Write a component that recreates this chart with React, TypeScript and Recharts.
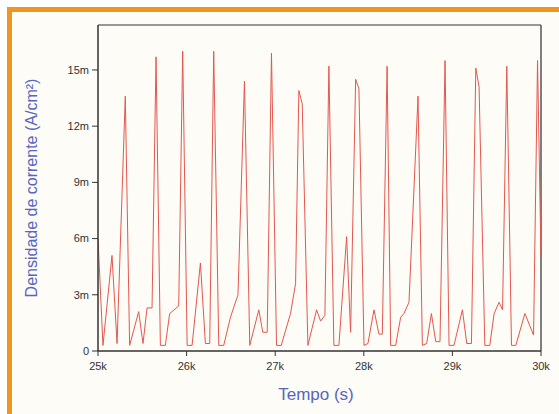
import React from 'react';
import { LineChart, Line, XAxis, YAxis, ReferenceLine } from 'recharts';

// tempo (s)
const times = [
  25000, 25056, 25158, 25215, 25308, 25357, 25459, 25508, 25554, 25610,
  25655, 25704, 25760, 25809, 25911, 25956, 26006, 26062, 26156, 26212,
  26261, 26306, 26363, 26419, 26495, 26580, 26653, 26713, 26815, 26860,
  26910, 26958, 27015, 27068, 27173, 27230, 27267, 27305, 27369, 27467,
  27512, 27561, 27606, 27662, 27719, 27806, 27851, 27908, 27945, 28002,
  28047, 28115, 28171, 28209, 28263, 28303, 28360, 28416, 28453, 28510,
  28612, 28661, 28710, 28763, 28812, 28860, 28917, 28962, 29018, 29113,
  29162, 29215, 29264, 29301, 29366, 29422, 29471, 29527, 29566, 29614,
  29667, 29716, 29818, 29916, 29961, 30000,
];

// densidade de corrente (mA/cm2)
const current = [
  6.0, 0.3, 5.1, 0.4, 13.6, 0.3, 2.1, 0.4, 2.3, 2.3,
  15.7, 0.3, 0.3, 2.0, 2.4, 16.0, 0.3, 0.3, 4.7, 0.4,
  0.4, 16.0, 0.3, 0.3, 1.8, 3.0, 14.4, 0.3, 2.2, 1.0,
  1.0, 15.9, 0.3, 0.3, 2.0, 3.6, 13.9, 13.2, 0.3, 2.2,
  1.6, 1.9, 15.2, 0.3, 0.3, 6.1, 1.0, 14.5, 14.0, 0.3,
  0.4, 2.2, 0.9, 0.9, 15.2, 0.3, 0.3, 1.8, 2.0, 2.6,
  13.6, 0.3, 0.4, 2.0, 0.5, 0.5, 15.5, 0.3, 0.3, 2.2,
  0.4, 0.4, 15.1, 14.1, 0.3, 0.3, 2.0, 2.6, 2.2, 15.2,
  0.3, 0.3, 2.0, 0.85, 15.5, 5.0,
];

const xTicks = [25000, 26000, 27000, 28000, 29000, 30000];
const yTicks = [0, 3, 6, 9, 12, 15];
const yMax = 17.4;

const data = times.map((t, i) => ({ t, v: current[i] }));

const font = 'Liberation Sans, Arial, sans-serif';
const labelColor = '#5864c4';
const tickStyle = { fill: '#333', fontSize: 11, fontFamily: font };

const YLabel = () => (
  <text
    x={31}
    y={188}
    transform="rotate(-90 31 188)"
    textAnchor="middle"
    dominantBaseline="central"
    fill={labelColor}
    fontSize={16}
    fontFamily={font}
  >
    Densidade de corrente (A/cm²)
  </text>
);

const XLabel = () => (
  <text x={316} y={400} textAnchor="middle" fill={labelColor} fontSize={17} fontFamily={font}>
    Tempo (s)
  </text>
);

export default function App() {
  return (
    <div style={{ position: 'absolute', left: 0, top: 0, width: 559, height: 414, background: '#fff', overflow: 'hidden' }}>
      <div
        style={{
          position: 'absolute',
          left: 7,
          top: 7,
          right: 0,
          bottom: 0,
          borderTop: '5px solid #f0951f',
          borderLeft: '5px solid #f0951f',
          background: '#fdfcf6',
        }}
      />
      <div style={{ position: 'absolute', left: 0, top: 0 }}>
        <LineChart width={559} height={414} data={data} margin={{ top: 25, right: 18, bottom: 0, left: 0 }}>
          <XAxis
            dataKey="t"
            type="number"
            domain={[25000, 30000]}
            ticks={xTicks}
            allowDataOverflow
            tickFormatter={(v: number) => `${v / 1000}k`}
            tick={tickStyle}
            tickSize={5}
            tickMargin={6}
            height={63}
            axisLine={{ stroke: '#333', strokeWidth: 1.5 }}
            tickLine={{ stroke: '#333' }}
            label={<XLabel />}
          />
          <YAxis
            type="number"
            domain={[0, yMax]}
            ticks={yTicks}
            allowDataOverflow
            tickFormatter={(v: number) => (v === 0 ? '0' : `${v}m`)}
            tick={tickStyle}
            tickSize={6}
            tickMargin={3}
            width={98}
            axisLine={{ stroke: '#333', strokeWidth: 1.5 }}
            tickLine={{ stroke: '#333' }}
            label={<YLabel />}
          />
          <ReferenceLine y={yMax} stroke="#777" strokeWidth={1.5} ifOverflow="extendDomain" />
          <ReferenceLine x={30000} stroke="#555" strokeWidth={1.5} ifOverflow="extendDomain" />
          <Line
            type="linear"
            dataKey="v"
            stroke="#e4574e"
            strokeWidth={1}
            dot={false}
            isAnimationActive={false}
          />
        </LineChart>
      </div>
    </div>
  );
}
